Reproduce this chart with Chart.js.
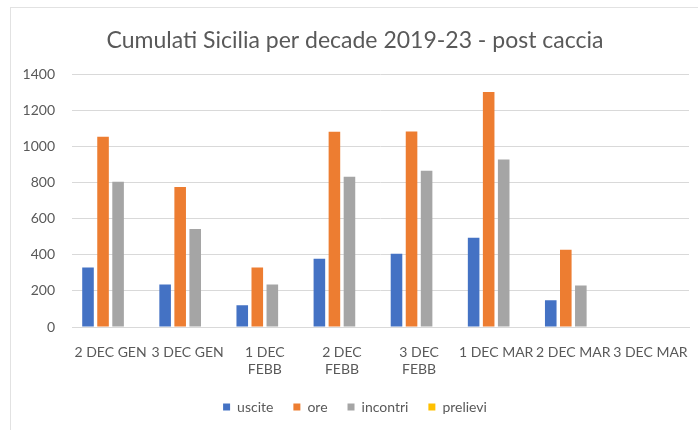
<!DOCTYPE html>
<html lang="it">
<head>
    <meta charset="UTF-8">
    <title>Cumulati Sicilia per decade 2019-23 - post caccia</title>
    <script src="https://cdn.jsdelivr.net/npm/chart.js"></script>
    <style>
        body {
            margin: 0;
            background-color: #fff;
            width: 698px;
            height: 430px;
            overflow: hidden;
        }
        #chart-box {
            position: absolute;
            left: 10px;
            top: 7px;
            width: 688px;
            height: 423px;
            border-top: 1px solid #e2e2e2;
            border-left: 1px solid #e2e2e2; /* faint frame like the Excel chart */
        }
    </style>
</head>
<body>
    <div id="chart-box">
        <canvas id="myChart"></canvas>
    </div>
    <script>
        // decades (multi-line where the original wraps)
        const decadi = [
            '2 DEC GEN', '3 DEC GEN', ['1 DEC', 'FEBB'], ['2 DEC', 'FEBB'],
            ['3 DEC', 'FEBB'], '1 DEC MAR', '2 DEC MAR', '3 DEC MAR'
        ];
        const uscite   = [330, 236, 121, 378, 406, 495, 148, 0];
        const ore      = [1055, 777, 330, 1083, 1085, 1304, 428, 0];
        const incontri = [805, 543, 236, 834, 866, 929, 230, 0];
        const prelievi = [0, 0, 0, 0, 0, 0, 0, 0];
        const yTicks   = [0, 200, 400, 600, 800, 1000, 1200, 1400];

        const grey = '#595959';
        const font = 'Lato, "Open Sans", sans-serif';

        const ctx = document.getElementById('myChart').getContext('2d');
        const myChart = new Chart(ctx, {
            type: 'bar',
            data: {
                labels: decadi,
                datasets: [
                    { label: 'uscite', data: uscite, backgroundColor: '#4472C4' },
                    { label: 'ore', data: ore, backgroundColor: '#ED7D31' },
                    { label: 'incontri', data: incontri, backgroundColor: '#A5A5A5' },
                    { label: 'prelievi', data: prelievi, backgroundColor: '#FFC000' }
                ]
            },
            options: {
                responsive: true,
                maintainAspectRatio: false,
                animation: false,
                categoryPercentage: 0.78,
                barPercentage: 0.77,
                layout: {
                    padding: { left: 10, right: 10, top: 10, bottom: 7 }
                },
                scales: {
                    x: {
                        grid: { display: false },
                        border: { color: '#d9d9d9' },
                        afterFit: axis => { axis.height = 53; },
                        ticks: {
                            color: grey,
                            autoSkip: false,
                            maxRotation: 0,
                            minRotation: 0,
                            padding: 9,
                            font: { family: font, size: 14 }
                        }
                    },
                    y: {
                        min: 0,
                        max: 1400,
                        afterBuildTicks: axis => {
                            axis.ticks = yTicks.map(v => ({ value: v }));
                        },
                        afterFit: axis => { axis.width = 51; },
                        grid: { color: '#d9d9d9', drawTicks: false },
                        border: { display: false },
                        ticks: {
                            color: grey,
                            padding: 17,
                            callback: v => String(v),
                            font: { family: font, size: 14 }
                        }
                    }
                },
                plugins: {
                    title: {
                        display: true,
                        text: 'Cumulati Sicilia per decade 2019-23 - post caccia',
                        color: grey,
                        padding: { top: 9, bottom: 20 },
                        font: { family: font, size: 23, weight: 'normal' }
                    },
                    legend: {
                        position: 'bottom',
                        labels: {
                            color: grey,
                            boxWidth: 7,
                            boxHeight: 7,
                            padding: 20,
                            font: { family: font, size: 14 }
                        }
                    },
                    tooltip: { enabled: false }
                }
            }
        });
    </script>
</body>
</html>
